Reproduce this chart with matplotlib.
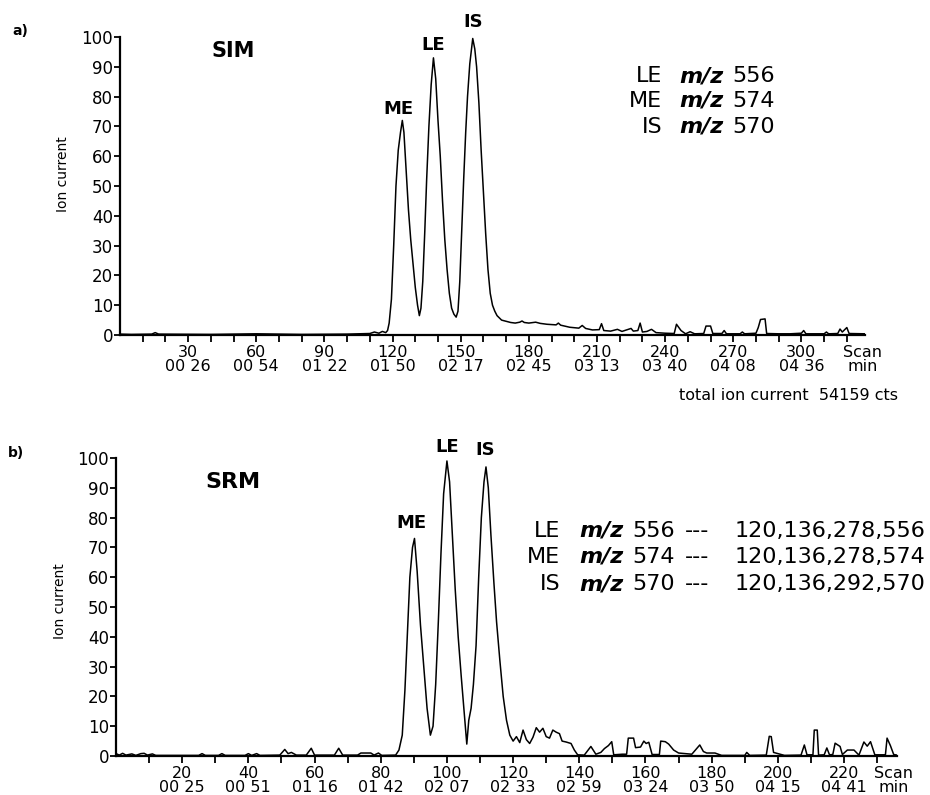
import matplotlib
matplotlib.use("Agg")
import matplotlib.pyplot as plt

plt.rcParams['font.family'] = ['DejaVu Sans']

# ---- SIM trace (panel a) : scan number vs relative ion current ----
sim_scan = [0, 5, 14, 15.5, 17, 40, 60, 80, 100, 110, 112, 114, 115.5, 117, 117.8,
            118.5, 119.5, 120.5, 121.5, 122.5, 123.5, 124.3, 125, 126, 127, 128, 129,
            130, 131, 131.8, 132.5, 133.3, 134.2, 135, 136, 137, 138, 139, 140, 141,
            142, 143, 144, 145, 146, 147, 148, 148.8, 149.6, 150.5, 151.3, 152.2, 153,
            154, 155.3, 156.2, 157, 158, 159, 160, 161, 162, 163, 164, 165, 166, 168,
            170, 172, 174, 176, 177, 178, 180, 183, 185, 188, 192, 193, 194, 198, 202,
            203.5, 205, 208, 211, 212, 213, 216, 219, 221, 225, 226, 228, 229, 230,
            232, 234, 236, 240, 244, 245, 247, 249, 251, 253, 257, 258, 260, 261, 265,
            266, 267, 273, 274, 275, 280, 281, 282, 284, 284.7, 290, 295, 300, 301,
            302, 310, 311, 312, 316, 317, 318, 320, 321, 328]
sim_ic = [0.3, 0.2, 0.3, 0.8, 0.3, 0.2, 0.4, 0.2, 0.3, 0.5, 1.0, 0.6, 1.2, 0.8, 1.5,
          4, 12, 30, 50, 62, 68, 72, 68, 55, 42, 32, 24,
          16, 10, 6.5, 9, 18, 35, 52, 70, 84, 93, 86, 72, 60,
          45, 32, 22, 14, 9, 7, 6, 8, 18, 36, 52, 68, 80,
          91, 99.5, 96, 90, 78, 62, 48, 34, 22, 14, 10, 8, 6.5, 5,
          4.6, 4.2, 4.0, 4.3, 4.7, 4.2, 4.0, 4.3, 3.9, 3.6, 3.4, 4.0, 3.3, 2.6, 2.3,
          3.2, 2.2, 1.7, 1.8, 3.8, 1.5, 1.3, 1.9, 1.2, 2.2, 1.3, 1.5, 4.0, 1.0,
          1.2, 1.9, 0.8, 0.6, 0.5, 3.6, 1.5, 0.4, 1.1, 0.4, 0.5, 3.0, 3.0, 0.5, 0.5,
          1.5, 0.4, 0.4, 1.0, 0.4, 0.6, 2.5, 5.2, 5.4, 0.5, 0.4, 0.4, 0.6, 1.5,
          0.4, 0.4, 1.0, 0.4, 0.5, 2.0, 1.0, 2.5, 0.5, 0.4]

# ---- SRM trace (panel b) ----
srm_scan = [0, 1, 2, 3, 4.8, 6, 7.5, 8.5, 9.5, 11, 12, 25, 26, 27, 31, 32, 33, 39, 40,
            41, 42.5, 43.5, 49.5, 51, 52, 53, 54.5, 57.5, 59, 60, 66, 67.3, 68.5, 73,
            74, 77, 78, 79.3, 80.3, 84.5, 85.5, 86.5, 87.3, 88, 88.8, 89.6, 90.2, 91,
            92, 93, 94, 95, 95.8, 96.6, 97.4, 98.2, 99, 100, 100.8, 101.6, 102.5,
            103.4, 104.3, 105.2, 106, 106.6, 107.3, 108, 108.8, 109.6, 110.4, 111.2,
            111.8, 112.5, 113.3, 114.2, 115, 116, 117, 118, 119, 120, 121, 122, 123,
            124, 125, 126, 127, 128, 129, 130, 131, 132, 133, 134, 134.8, 136, 137.5,
            138.5, 139.5, 141.5, 143.5, 145, 146.5, 147.6, 148.8, 149.8, 150.4, 153,
            154.3, 154.8, 156.4, 157, 158.5, 159.5, 160.2, 161, 162, 164.2, 164.6,
            166, 167, 168.5, 170, 172, 174, 176.4, 177.5, 178.5, 181, 183, 190, 190.6,
            191.5, 196.5, 197.4, 198, 198.7, 202, 207, 208, 208.8, 210.6, 211, 211.9,
            212.3, 214, 214.8, 215.6, 216.6, 217.3, 218.8, 219.5, 221, 223, 224.5,
            226, 227, 228, 229.3, 232.5, 233, 234, 235, 236]
srm_ic = [0.8, 0.3, 0.9, 0.3, 0.7, 0.2, 0.8, 0.9, 0.3, 0.7, 0.2, 0.2, 0.8, 0.2, 0.2, 0.8, 0.2, 0.2, 0.8,
          0.2, 0.8, 0.2, 0.3, 2.2, 0.8, 1.2, 0.3, 0.3, 2.6, 0.3, 0.3, 2.6, 0.3, 0.3,
          1.0, 1.0, 0.3, 1.0, 0.2, 0.3, 2, 7, 22, 40, 60, 70, 73, 62,
          44, 30, 16, 7, 10, 24, 45, 68, 88, 99, 92, 75, 56,
          40, 27, 15, 4, 12, 16, 24, 37, 60, 80, 92,
          97, 90, 74, 58, 45, 32, 20, 12, 7, 5, 6.5, 4.5, 8.7,
          5.5, 4.2, 6.3, 9.5, 8, 9.3, 6.5, 6, 8.7, 8, 7.5, 5, 4.7, 4.2,
          2, 0.4, 0.3, 3.2, 0.6, 1.2, 2.5, 3.5, 4.8, 0.4, 0.6,
          0.6, 6, 6, 2.8, 3, 5, 4.2, 4.6, 0.5, 0.5, 5,
          4.8, 4, 2, 1, 0.8, 0.6, 3.7, 1.5, 1, 1, 0.2, 0.2, 1.2,
          0.2, 0.3, 6.6, 6.5, 1.2, 0.2, 0.3, 3.7, 0.4, 0.4, 8.7, 8.7,
          0.3, 0.4, 2.7, 0.4, 0.5, 4.3, 3.2, 0.5, 2, 2, 0.3,
          4.7, 3.3, 4.8, 0.4, 0.4, 6, 3.5, 0.5, 0.3]

# axis tick labels
sim_major = [30, 60, 90, 120, 150, 180, 210, 240, 270, 300]
sim_times = ["00 26", "00 54", "01 22", "01 50", "02 17", "02 45", "03 13",
             "03 40", "04 08", "04 36"]
srm_major = [20, 40, 60, 80, 100, 120, 140, 160, 180, 200, 220]
srm_times = ["00 25", "00 51", "01 16", "01 42", "02 07", "02 33", "02 59",
             "03 24", "03 50", "04 15", "04 41"]

W, H = 930, 795


def fx(x):
    return x / W


def fy(y):
    return 1 - y / H


fig = plt.figure(figsize=(9.3, 7.95), dpi=100)
ax1 = fig.add_axes([fx(120), fy(335), 745 / W, 298 / H])
ax2 = fig.add_axes([fx(116), fy(756), 781 / W, 298 / H])


def style_axis(ax, scan, ic, xmax, major, times, minor_step):
    ax.plot(scan, ic, color='black', lw=1.1)
    ax.set_xlim(0, xmax)
    ax.set_ylim(0, 100)
    for s in ['top', 'right']:
        ax.spines[s].set_visible(False)
    for s in ['left', 'bottom']:
        ax.spines[s].set_linewidth(1.6)
    ax.set_yticks(range(0, 101, 10))
    ax.tick_params(axis='y', labelsize=12, length=4, width=1.3, pad=1)
    ticks = major + [xmax - 1]
    labels = [f"{m}\n{t}" for m, t in zip(major, times)] + ["Scan\nmin"]
    ax.set_xticks(ticks, labels)
    ax.set_xticks([v for v in range(minor_step, xmax - 5, minor_step)
                   if v not in major], minor=True)
    ax.tick_params(axis='x', which='both', labelsize=11.5, length=5, width=1.3, pad=2)
    for lab in ax.get_xticklabels():
        lab.set_linespacing(0.9)
    ax.xaxis.get_major_ticks()[-1].tick1line.set_visible(False)
    ax.set_ylabel("Ion current", fontsize=10)


style_axis(ax1, sim_scan, sim_ic, 328, sim_major, sim_times, 10)
style_axis(ax2, srm_scan, srm_ic, 236, srm_major, srm_times, 10)
ax1.yaxis.set_label_coords(-0.067, 0.54)
ax2.yaxis.set_label_coords(-0.063, 0.52)

# panel letters and mode titles
fig.text(fx(12), fy(35), "a)", fontsize=10, fontweight='bold')
fig.text(fx(8), fy(457), "b)", fontsize=10, fontweight='bold')
fig.text(fx(233), fy(57), "SIM", fontsize=15, fontweight='bold', ha='center')
fig.text(fx(233), fy(488), "SRM", fontsize=16, fontweight='bold', ha='center')

# peak labels
fig.text(fx(398), fy(114), "ME", fontsize=13, fontweight='bold', ha='center')
fig.text(fx(433), fy(50), "LE", fontsize=13, fontweight='bold', ha='center')
fig.text(fx(473), fy(27), "IS", fontsize=13, fontweight='bold', ha='center')
fig.text(fx(411), fy(528), "ME", fontsize=13, fontweight='bold', ha='center')
fig.text(fx(447), fy(452), "LE", fontsize=13, fontweight='bold', ha='center')
fig.text(fx(485), fy(455), "IS", fontsize=13, fontweight='bold', ha='center')

# ion lists
names = ["LE", "ME", "IS"]
sim_mz = ["556", "574", "570"]
srm_prec = ["556", "574", "570"]
srm_frag = ["120,136,278,556", "120,136,278,574", "120,136,292,570"]
for i, (n, m) in enumerate(zip(names, sim_mz)):
    yb = [82, 107, 133][i]
    fig.text(fx(662), fy(yb), n, fontsize=16, ha='right')
    fig.text(fx(679), fy(yb), "m/z", fontsize=16, fontweight='bold',
             fontstyle='italic')
    fig.text(fx(775), fy(yb), m, fontsize=16, ha='right')
for i, (n, p, f) in enumerate(zip(names, srm_prec, srm_frag)):
    yb = [537, 563, 590][i]
    fig.text(fx(560), fy(yb), n, fontsize=16, ha='right')
    fig.text(fx(579), fy(yb), "m/z", fontsize=16, fontweight='bold',
             fontstyle='italic')
    fig.text(fx(632), fy(yb), p, fontsize=16)
    fig.text(fx(697), fy(yb), "---", fontsize=16, ha='center')
    fig.text(fx(925), fy(yb), f, fontsize=16, ha='right')

fig.text(fx(898), fy(400), "total ion current  54159 cts", fontsize=11.5,
         ha='right')

fig.savefig("out.png", dpi=100)
